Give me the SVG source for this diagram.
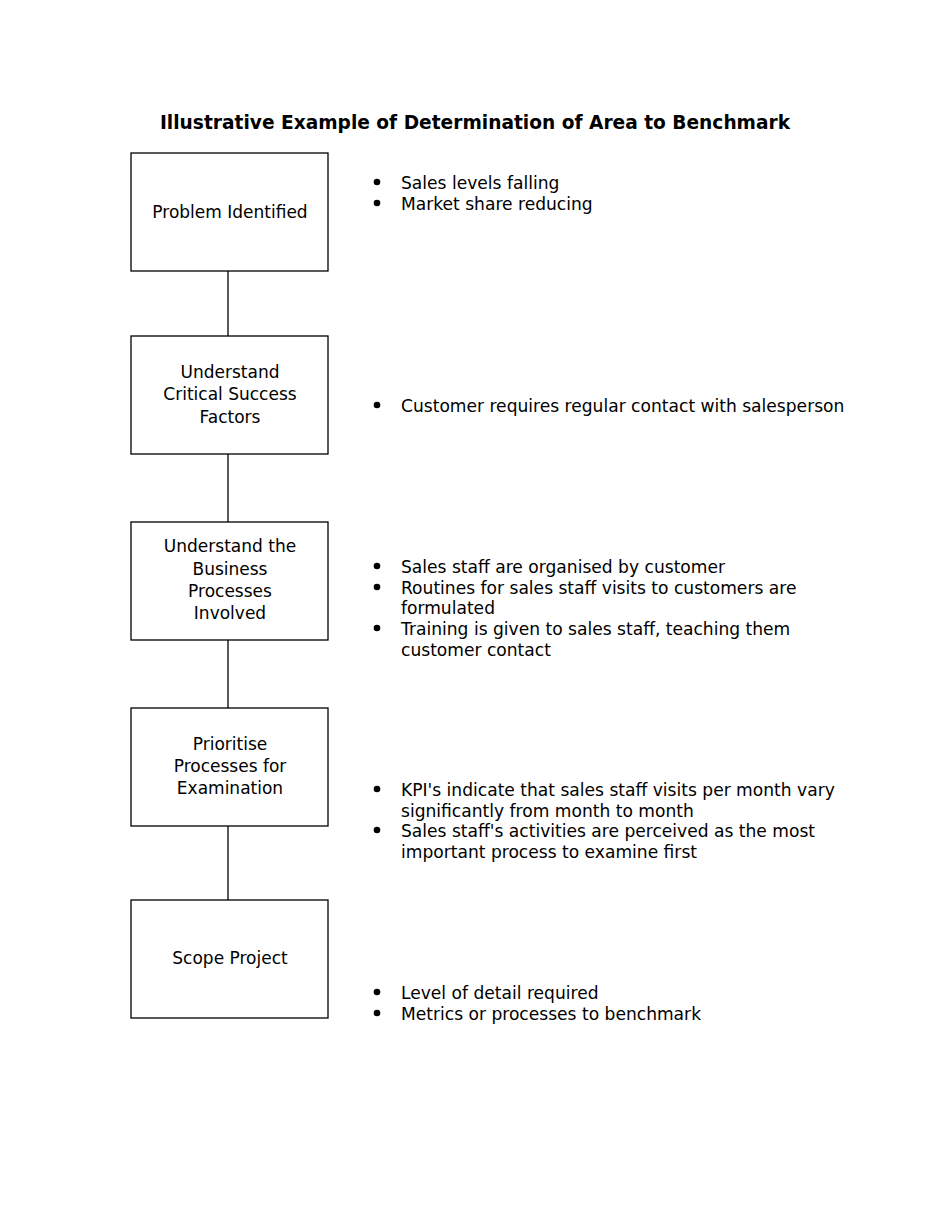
<svg xmlns="http://www.w3.org/2000/svg" width="950" height="1230" viewBox="0 0 950 1230">
<style>
text{font-family:"DejaVu Sans","Liberation Sans",sans-serif;fill:#000}
.t{font-size:18.6px;font-weight:bold;text-anchor:middle}
.b{font-size:17px;text-anchor:middle}
.l{font-size:17.1px}
.box{fill:#fff;stroke:#000;stroke-width:1.3}
.c{stroke:#000;stroke-width:1.3;fill:none}
</style>
<rect width="950" height="1230" fill="#fff"/>
<text class="t" x="475" y="129">Illustrative Example of Determination of Area to Benchmark</text>
<g id="connectors">
<line class="c" x1="228" y1="271" x2="228" y2="336"/>
<line class="c" x1="228" y1="454" x2="228" y2="522"/>
<line class="c" x1="228" y1="640" x2="228" y2="708"/>
<line class="c" x1="228" y1="826" x2="228" y2="900"/>
</g>
<g id="n1"><rect class="box" x="131" y="153" width="197" height="118"/>
<text class="b" x="230" y="218">Problem Identified</text></g>
<g id="n2"><rect class="box" x="131" y="336" width="197" height="118"/>
<text class="b" x="230" y="378">Understand</text><text class="b" x="230" y="400">Critical Success</text><text class="b" x="230" y="423">Factors</text></g>
<g id="n3"><rect class="box" x="131" y="522" width="197" height="118"/>
<text class="b" x="230" y="552">Understand the</text><text class="b" x="230" y="575">Business</text><text class="b" x="230" y="597">Processes</text><text class="b" x="230" y="619">Involved</text></g>
<g id="n4"><rect class="box" x="131" y="708" width="197" height="118"/>
<text class="b" x="230" y="750">Prioritise</text><text class="b" x="230" y="772">Processes for</text><text class="b" x="230" y="794">Examination</text></g>
<g id="n5"><rect class="box" x="131" y="900" width="197" height="118"/>
<text class="b" x="230" y="964">Scope Project</text></g>
<g id="bullets1"><circle cx="377" cy="182" r="3.3"/><circle cx="377" cy="203" r="3.3"/>
<text class="l" x="401" y="189">Sales levels falling</text><text class="l" x="401" y="210">Market share reducing</text></g>
<g id="bullets2"><circle cx="377" cy="405" r="3.3"/>
<text class="l" x="401" y="412">Customer requires regular contact with salesperson</text></g>
<g id="bullets3"><circle cx="377" cy="566" r="3.3"/><circle cx="377" cy="587" r="3.3"/><circle cx="377" cy="628" r="3.3"/>
<text class="l" x="401" y="573">Sales staff are organised by customer</text>
<text class="l" x="401" y="594">Routines for sales staff visits to customers are</text>
<text class="l" x="401" y="614">formulated</text>
<text class="l" x="401" y="635">Training is given to sales staff, teaching them</text>
<text class="l" x="401" y="656">customer contact</text></g>
<g id="bullets4"><circle cx="377" cy="789" r="3.3"/><circle cx="377" cy="830" r="3.3"/>
<text class="l" x="401" y="796">KPI's indicate that sales staff visits per month vary</text>
<text class="l" x="401" y="817">significantly from month to month</text>
<text class="l" x="401" y="837">Sales staff's activities are perceived as the most</text>
<text class="l" x="401" y="858">important process to examine first</text></g>
<g id="bullets5"><circle cx="377" cy="992" r="3.3"/><circle cx="377" cy="1013" r="3.3"/>
<text class="l" x="401" y="999">Level of detail required</text><text class="l" x="401" y="1020">Metrics or processes to benchmark</text></g>
</svg>
